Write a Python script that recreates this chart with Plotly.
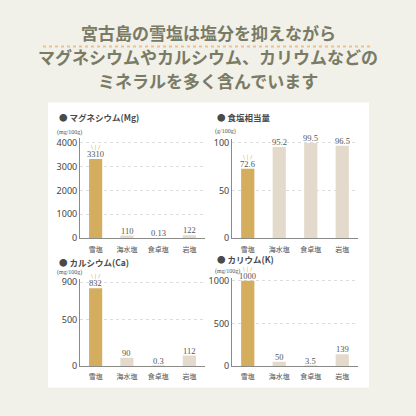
import plotly.graph_objects as go

W = H = 416
categories = ["雪塩", "海水塩", "食卓塩", "岩塩"]
mg_values = [3310, 110, 0.13, 122]
mg_labels = ["3310", "110", "0.13", "122"]
salt_values = [72.6, 95.2, 99.5, 96.5]
salt_labels = ["72.6", "95.2", "99.5", "96.5"]
ca_values = [832, 90, 0.3, 112]
ca_labels = ["832", "90", "0.3", "112"]
k_values = [1000, 50, 3.5, 139]
k_labels = ["1000", "50", "3.5", "139"]

panels = [
    dict(title="● マグネシウム(Mg)", unit="(mg/100g)", vals=mg_values, labels=mg_labels,
         ticks=[0, 1000, 2000, 3000, 4000], rng=[0, 4200], x=(80, 205), y=(240, 137), tx=58, ty=116, uy=132),
    dict(title="● 食塩相当量", unit="(g/100g)", vals=salt_values, labels=salt_labels,
         ticks=[0, 50, 100], rng=[0, 104], x=(232, 358), y=(240, 138), tx=216, ty=116, uy=131),
    dict(title="● カルシウム(Ca)", unit="(mg/100g)", vals=ca_values, labels=ca_labels,
         ticks=[0, 500, 900], rng=[0, 930], x=(80, 205), y=(371, 282), tx=58, ty=264, uy=275),
    dict(title="● カリウム(K)", unit="(mg/100g)", vals=k_values, labels=k_labels,
         ticks=[0, 500, 1000], rng=[0, 1030], x=(232, 358), y=(371, 281), tx=216, ty=261, uy=274),
]

GOLD = "#d4ae5e"
BEIGE = "#e3dacb"
FONT = "Noto Sans CJK JP"

def px(x):
    return x / W

def py(y):
    return 1 - y / H

fig = go.Figure()
annotations = []
shapes = []

shapes.append(dict(type="rect", xref="paper", yref="paper", x0=px(48), x1=px(369),
                   y0=py(393), y1=py(101), fillcolor="white", line=dict(width=0), layer="below"))
shapes.append(dict(type="line", xref="paper", yref="paper", x0=px(43), x1=px(373),
                   y0=py(43.5), y1=py(43.5), line=dict(color="#ebc28f", width=2, dash="dot")))

for i, p in enumerate(panels):
    n = "" if i == 0 else str(i + 1)
    xa = "x" + n
    ya = "y" + n
    colors = [GOLD] + [BEIGE] * (len(categories) - 1)
    fig.add_trace(go.Bar(x=categories, y=p["vals"], marker=dict(color=colors, line=dict(width=0)),
                         xaxis=xa, yaxis=ya, width=0.42, hoverinfo="skip", showlegend=False))
    fig.layout["xaxis" + n] = dict(domain=[px(p["x"][0]), px(p["x"][1])], anchor=ya,
                                   showline=True, linecolor="#8a8a86", linewidth=1,
                                   ticks="", ticklabelstandoff=4,
                                   tickfont=dict(size=7, color="#555", family=FONT),
                                   showgrid=False, fixedrange=True)
    fig.layout["yaxis" + n] = dict(domain=[py(p["y"][0]), py(p["y"][1])], anchor=xa,
                                   range=p["rng"], tickvals=p["ticks"],
                                   showline=True, linecolor="#8a8a86", linewidth=1,
                                   ticks="", tickfont=dict(size=9, color="#444", family="Noto Sans"),
                                   showgrid=True, gridcolor="#dddddd", griddash="dot", gridwidth=1,
                                   zeroline=False, fixedrange=True)
    for c, v, t in zip(categories, p["vals"], p["labels"]):
        annotations.append(dict(x=c, y=v, xref=xa, yref=ya, text=t, showarrow=False,
                                yanchor="bottom", yshift=-2,
                                font=dict(size=8.5, color="#555", family="Liberation Serif")))
    annotations.append(dict(x=categories[0], y=p["vals"][0], xref=xa, yref=ya, text="\\ | /",
                            showarrow=False, yanchor="bottom", yshift=7, borderpad=0,
                            font=dict(size=5.5, color=GOLD, family="DejaVu Sans")))
    annotations.append(dict(x=px(p["tx"]), y=py(p["ty"]), xref="paper", yref="paper",
                            text="<b>" + p["title"] + "</b>", showarrow=False,
                            xanchor="left", yanchor="middle", borderpad=0,
                            font=dict(size=8.5, color="#4a4a4a", family=FONT)))
    annotations.append(dict(x=px(p["tx"] - 3), y=py(p["uy"]),
                            xref="paper", yref="paper", text=p["unit"], showarrow=False,
                            xanchor="left", yanchor="middle",
                            font=dict(size=6, color="#555", family="Liberation Serif")))

title_lines = ["宮古島の雪塩は塩分を抑えながら",
               "マグネシウムやカルシウム、カリウムなどの",
               "ミネラルを多く含んでいます"]
for ln, yy in zip(title_lines, [29, 54, 78]):
    annotations.append(dict(x=0.5, y=py(yy), xref="paper", yref="paper", text="<b>" + ln + "</b>",
                            showarrow=False, xanchor="center", yanchor="middle",
                            font=dict(size=17, color="#7a7b64", family=FONT)))

fig.update_layout(width=W, height=H, margin=dict(l=0, r=0, t=0, b=0),
                  paper_bgcolor="#f1f0e9", plot_bgcolor="rgba(0,0,0,0)",
                  annotations=annotations, shapes=shapes, bargap=0.58, showlegend=False)

fig.write_html("out.html", config={"displayModeBar": False})
